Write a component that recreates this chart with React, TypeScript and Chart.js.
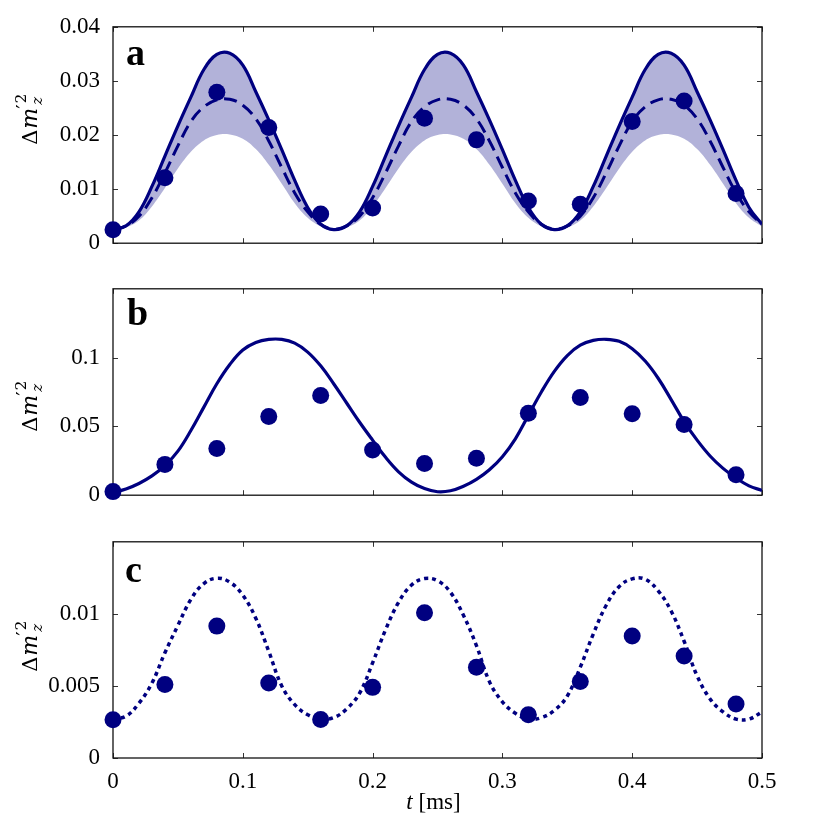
import React, { useEffect, useRef } from "react";
import { Chart, registerables } from "chart.js";

Chart.register(...registerables);

// ---------- data ----------
const tCurve = [
  0, 0.01, 0.02, 0.03, 0.04, 0.05, 0.06, 0.07, 0.08, 0.09,
  0.1, 0.11, 0.12, 0.13, 0.14, 0.15, 0.16, 0.17, 0.18, 0.19,
  0.2, 0.21, 0.22, 0.23, 0.24, 0.25, 0.26, 0.27, 0.28, 0.29,
  0.3, 0.31, 0.32, 0.33, 0.34, 0.35, 0.36, 0.37, 0.38, 0.39,
  0.4, 0.41, 0.42, 0.43, 0.44, 0.45, 0.46, 0.47, 0.48, 0.49, 0.5,
];
const tPoints = [0, 0.04, 0.08, 0.12, 0.16, 0.2, 0.24, 0.28, 0.32, 0.36, 0.4, 0.44, 0.48];

// panel a
const upperA = [
  0.0025,
  0.0032, 0.0058, 0.0105, 0.0161, 0.0217, 0.027, 0.0321, 0.0349, 0.0351, 0.0329, 0.028, 0.0228, 0.0173, 0.0116, 0.0066, 0.0035, 0.0025,
  0.0032, 0.0058, 0.0105, 0.0161, 0.0217, 0.027, 0.0321, 0.0349, 0.0351, 0.0329, 0.028, 0.0228, 0.0173, 0.0116, 0.0066, 0.0035, 0.0025,
  0.0032, 0.0058, 0.0105, 0.0161, 0.0217, 0.027, 0.0321, 0.0349, 0.0351, 0.0329, 0.028, 0.0228, 0.0173, 0.0116, 0.0066, 0.0035,
];
const dashedA = [
  0.0025,
  0.0032, 0.005, 0.0084, 0.013, 0.018, 0.0225, 0.0252, 0.0265, 0.0266, 0.0255, 0.023, 0.0189, 0.014, 0.0093, 0.0058, 0.0035, 0.0026,
  0.0032, 0.005, 0.0084, 0.013, 0.018, 0.0225, 0.0252, 0.0265, 0.0266, 0.0255, 0.023, 0.0189, 0.014, 0.0093, 0.0058, 0.0035, 0.0026,
  0.0032, 0.005, 0.0084, 0.013, 0.018, 0.0225, 0.0252, 0.0265, 0.0266, 0.0255, 0.023, 0.0189, 0.014, 0.0093, 0.0058, 0.0035,
];
const lowerA = [
  0.0023,
  0.0029, 0.0042, 0.0068, 0.0102, 0.0138, 0.0169, 0.019, 0.02, 0.0201, 0.0193, 0.0174, 0.0145, 0.011, 0.0074, 0.0047, 0.0031, 0.0023,
  0.0029, 0.0042, 0.0068, 0.0102, 0.0138, 0.0169, 0.019, 0.02, 0.0201, 0.0193, 0.0174, 0.0145, 0.011, 0.0074, 0.0047, 0.0031, 0.0023,
  0.0029, 0.0042, 0.0068, 0.0102, 0.0138, 0.0169, 0.019, 0.02, 0.0201, 0.0193, 0.0174, 0.0145, 0.011, 0.0074, 0.0047, 0.0031,
];
const pointsA = [0.0025, 0.0121, 0.0279, 0.0214, 0.0054, 0.0065, 0.0231, 0.0191, 0.0078, 0.0072, 0.0225, 0.0263, 0.0092];

// panel b
const curveB = [
  0.002, 0.0045, 0.0085, 0.014, 0.0215, 0.032, 0.047, 0.064, 0.081, 0.095,
  0.1055, 0.111, 0.1132, 0.1132, 0.1105, 0.104, 0.094, 0.081, 0.067, 0.053,
  0.04, 0.0275, 0.017, 0.0095, 0.0048, 0.0025, 0.0032, 0.0065, 0.0115, 0.0185,
  0.028, 0.041, 0.058, 0.075, 0.09, 0.1015, 0.109, 0.1125, 0.1133, 0.1118,
  0.1065, 0.0975, 0.085, 0.0695, 0.0535, 0.04, 0.0285, 0.0195, 0.0125, 0.0068, 0.0035,
];
const pointsB = [0.0026, 0.0224, 0.0339, 0.0572, 0.0724, 0.0328, 0.023, 0.0269, 0.0596, 0.071, 0.0592, 0.0513, 0.0148];

// panel c
const curveC = [
  0.0027, 0.0029, 0.0038, 0.0052, 0.0073, 0.0092, 0.011, 0.0121, 0.01247, 0.0122,
  0.0113, 0.0097, 0.0074, 0.005, 0.0037, 0.003, 0.0027, 0.0028, 0.0034, 0.0045,
  0.0066, 0.0089, 0.0108, 0.012, 0.01245, 0.0123, 0.0115, 0.0099, 0.0078, 0.0053,
  0.0039, 0.0031, 0.0027, 0.0028, 0.0033, 0.0043, 0.0063, 0.0086, 0.0106, 0.0119,
  0.01243, 0.0124, 0.0116, 0.0102, 0.0081, 0.0057, 0.0041, 0.0032, 0.0027, 0.0027, 0.0032,
];
const pointsC = [0.00265, 0.0051, 0.00915, 0.0052, 0.00267, 0.0049, 0.01007, 0.0063, 0.003, 0.0053, 0.00846, 0.00707, 0.00375];

// ticks
const xTicks = [0, 0.1, 0.2, 0.3, 0.4, 0.5];
const xTickLabels = ["0", "0.1", "0.2", "0.3", "0.4", "0.5"];
const yTicksA = [0, 0.01, 0.02, 0.03, 0.04];
const yTickLabelsA = ["0", "0.01", "0.02", "0.03", "0.04"];
const yTicksB = [0, 0.05, 0.1];
const yTickLabelsB = ["0", "0.05", "0.1"];
const yTicksC = [0, 0.005, 0.01];
const yTickLabelsC = ["0", "0.005", "0.01"];
const yMaxA = 0.04;
const yMaxB = 0.15;
const yMaxC = 0.015;

// ---------- styling ----------
const NAVY = "#000080";
const BAND = "rgba(0,0,128,0.3)";
const SERIF = "'Liberation Serif', serif";

const xy = (xs: number[], ys: number[]) => xs.map((x, i) => ({ x, y: ys[i] }));

function drawYLabel(ctx: CanvasRenderingContext2D, baseX: number, startY: number) {
  ctx.save();
  ctx.translate(baseX, startY);
  ctx.rotate(-Math.PI / 2);
  ctx.fillStyle = "#000";
  ctx.textBaseline = "alphabetic";
  ctx.textAlign = "left";
  ctx.font = "21px 'DejaVu Serif'";
  ctx.fillText("\u0394", 0, 0);
  let x = ctx.measureText("\u0394").width + 1;
  ctx.font = "italic 22px 'DejaVu Serif'";
  ctx.fillText("m", x, 0);
  x += ctx.measureText("m").width;
  ctx.font = "20px 'DejaVu Serif'";
  ctx.fillText("\u2032", x - 1, -6);
  const wp = ctx.measureText("\u2032").width;
  ctx.font = "15px 'DejaVu Serif'";
  ctx.fillText("2", x + wp, -11);
  ctx.font = "italic 15px 'DejaVu Serif'";
  ctx.fillText("z", x + 3, 5);
  ctx.restore();
}

const panelPlugin = {
  id: "panel",
  beforeDatasetsDraw(chart: any, _args: any, o: any) {
    const { ctx, chartArea: ca, scales } = chart;
    ctx.save();
    ctx.strokeStyle = "#333";
    ctx.lineWidth = 1;
    const L = 5;
    ctx.beginPath();
    for (const v of xTicks) {
      const px = Math.round(scales.x.getPixelForValue(v)) + 0.5;
      ctx.moveTo(px, ca.bottom);
      ctx.lineTo(px, ca.bottom - L);
      ctx.moveTo(px, ca.top);
      ctx.lineTo(px, ca.top + L);
    }
    for (const v of o.yTicks) {
      const py = Math.round(scales.y.getPixelForValue(v)) + 0.5;
      ctx.moveTo(ca.left, py);
      ctx.lineTo(ca.left + L, py);
      ctx.moveTo(ca.right, py);
      ctx.lineTo(ca.right - L, py);
    }
    ctx.stroke();
    ctx.strokeStyle = "#111";
    ctx.lineWidth = 1.3;
    ctx.strokeRect(ca.left, ca.top, ca.right - ca.left, ca.bottom - ca.top);
    ctx.restore();
  },
  afterDatasetsDraw(chart: any, _args: any, o: any) {
    const { ctx, chartArea: ca } = chart;
    ctx.save();
    ctx.fillStyle = "#000";
    ctx.textBaseline = "alphabetic";
    ctx.textAlign = "left";
    ctx.font = `bold 38px ${SERIF}`;
    ctx.fillText(o.letter, ca.left + o.letterDx, ca.top + o.letterDy);
    drawYLabel(ctx, 37, ca.top + o.labelDy);
    if (o.xTitle) {
      const y = ca.bottom + 51;
      ctx.font = `italic 23px ${SERIF}`;
      const w1 = ctx.measureText("t").width;
      ctx.font = `23px ${SERIF}`;
      const w2 = ctx.measureText(" [ms]").width;
      const x0 = (ca.left + ca.right) / 2 - (w1 + w2) / 2 - 4;
      ctx.font = `italic 23px ${SERIF}`;
      ctx.fillText("t", x0, y);
      ctx.font = `23px ${SERIF}`;
      ctx.fillText(" [ms]", x0 + w1, y);
    }
    ctx.restore();
  },
};

function makeConfig(p: {
  datasets: any[];
  yMax: number;
  yTicks: number[];
  yLabels: string[];
  padTop: number;
  padBottom: number;
  showX: boolean;
  letter: string;
  letterDx: number;
  letterDy: number;
  labelDy: number;
}) {
  return {
    type: "line",
    data: { datasets: p.datasets },
    plugins: [panelPlugin],
    options: {
      animation: false,
      responsive: false,
      maintainAspectRatio: false,
      devicePixelRatio: 1,
      events: [],
      layout: { padding: { top: p.padTop, right: 68, bottom: p.padBottom, left: 0 } },
      plugins: {
        legend: { display: false },
        tooltip: { enabled: false },
        panel: {
          yTicks: p.yTicks,
          letter: p.letter,
          letterDx: p.letterDx,
          letterDy: p.letterDy,
          labelDy: p.labelDy,
          xTitle: p.showX,
        },
      },
      scales: {
        x: {
          type: "linear",
          min: 0,
          max: 0.5,
          display: p.showX,
          afterBuildTicks: (s: any) => {
            s.ticks = xTicks.map((v) => ({ value: v }));
          },
          afterFit: (s: any) => {
            s.height = p.showX ? 72 : 0;
          },
          grid: { display: false, drawTicks: false },
          border: { display: false },
          ticks: {
            autoSkip: false,
            maxRotation: 0,
            padding: 10,
            color: "#000",
            font: { family: SERIF, size: 23 },
            callback: (_v: any, i: number) => xTickLabels[i],
          },
        },
        y: {
          type: "linear",
          min: 0,
          max: p.yMax,
          afterBuildTicks: (s: any) => {
            s.ticks = p.yTicks.map((v) => ({ value: v }));
          },
          afterFit: (s: any) => {
            s.width = 113;
          },
          grid: { display: false, drawTicks: false },
          border: { display: false },
          ticks: {
            autoSkip: false,
            padding: 13,
            color: "#000",
            font: { family: SERIF, size: 23 },
            callback: (_v: any, i: number) => p.yLabels[i],
          },
        },
      },
    },
  };
}

const pointSet = (ys: number[]) => ({
  data: xy(tPoints, ys),
  showLine: false,
  pointRadius: 8.5,
  pointBackgroundColor: NAVY,
  pointBorderWidth: 0,
  borderColor: NAVY,
  clip: false,
  order: 0,
});

const lineSet = (ys: number[], extra: any = {}) => ({
  data: xy(tCurve, ys),
  borderColor: NAVY,
  borderWidth: 3.2,
  pointRadius: 0,
  tension: 0.4,
  fill: false,
  order: 1,
  ...extra,
});

const cfgA = makeConfig({
  datasets: [
    pointSet(pointsA),
    lineSet(dashedA, { borderDash: [13, 7], borderWidth: 3 }),
    lineSet(upperA, { fill: { target: 3 }, backgroundColor: BAND }),
    lineSet(lowerA, { borderWidth: 0, borderColor: "transparent", order: 2 }),
  ],
  yMax: yMaxA,
  yTicks: yTicksA,
  yLabels: yTickLabelsA,
  padTop: 24,
  padBottom: 16,
  showX: false,
  letter: "a",
  letterDx: 13,
  letterDy: 38,
  labelDy: 118,
});

const cfgB = makeConfig({
  datasets: [pointSet(pointsB), lineSet(curveB)],
  yMax: yMaxB,
  yTicks: yTicksB,
  yLabels: yTickLabelsB,
  padTop: 15,
  padBottom: 15,
  showX: false,
  letter: "b",
  letterDx: 14,
  letterDy: 36,
  labelDy: 143,
});

const cfgC = makeConfig({
  datasets: [pointSet(pointsC), lineSet(curveC, { borderDash: [4, 4], borderWidth: 3.5 })],
  yMax: yMaxC,
  yTicks: yTicksC,
  yLabels: yTickLabelsC,
  padTop: 13,
  padBottom: 0,
  showX: true,
  letter: "c",
  letterDx: 12,
  letterDy: 40,
  labelDy: 130,
});

export default function App() {
  const refA = useRef<HTMLCanvasElement>(null);
  const refB = useRef<HTMLCanvasElement>(null);
  const refC = useRef<HTMLCanvasElement>(null);

  useEffect(() => {
    const charts = [
      new Chart(refA.current as HTMLCanvasElement, cfgA as any),
      new Chart(refB.current as HTMLCanvasElement, cfgB as any),
      new Chart(refC.current as HTMLCanvasElement, cfgC as any),
    ];
    return () => charts.forEach((c) => c.destroy());
  }, []);

  const cv = (top: number, h: number): React.CSSProperties => ({
    position: "absolute",
    left: 0,
    top,
    width: 830,
    height: h,
    display: "block",
  });

  return (
    <div style={{ position: "absolute", left: 0, top: 0, width: 830, height: 830, background: "#fff" }}>
      <canvas ref={refA} width={830} height={270} style={cv(0, 270)} />
      <canvas ref={refB} width={830} height={260} style={cv(262, 260)} />
      <canvas ref={refC} width={830} height={315} style={cv(515, 315)} />
    </div>
  );
}
